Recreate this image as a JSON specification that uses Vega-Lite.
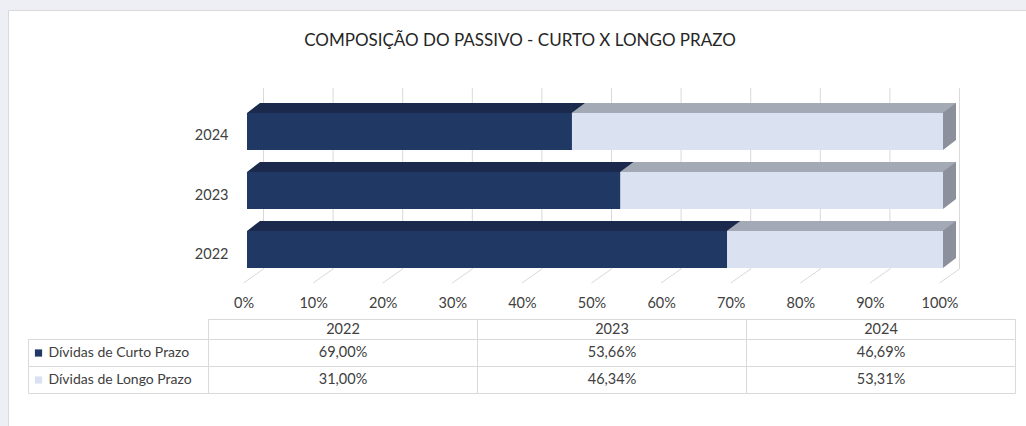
{
  "$schema": "https://vega.github.io/schema/vega-lite/v6.json",
  "width": 1018,
  "height": 416,
  "autosize": {"type": "none"},
  "padding": {"left": 8, "top": 10, "right": 0, "bottom": 0},
  "background": "#eeeef5",
  "title": {
    "text": "COMPOSIÇÃO DO PASSIVO - CURTO X LONGO PRAZO",
    "anchor": "middle",
    "frame": "group",
    "offset": -53,
    "baseline": "alphabetic",
    "font": "Lato",
    "fontSize": 17,
    "fontWeight": "normal",
    "color": "#262626",
    "dx": 3
  },
  "datasets": {
    "dados": [
      {"ano": "2022", "serie": "Dívidas de Curto Prazo", "valor": 0.69},
      {"ano": "2022", "serie": "Dívidas de Longo Prazo", "valor": 0.31},
      {"ano": "2023", "serie": "Dívidas de Curto Prazo", "valor": 0.5366},
      {"ano": "2023", "serie": "Dívidas de Longo Prazo", "valor": 0.4634},
      {"ano": "2024", "serie": "Dívidas de Curto Prazo", "valor": 0.4669},
      {"ano": "2024", "serie": "Dívidas de Longo Prazo", "valor": 0.5331}
    ],
    "marcas": [
      {"t": 0}, {"t": 0.1}, {"t": 0.2}, {"t": 0.3}, {"t": 0.4}, {"t": 0.5},
      {"t": 0.6}, {"t": 0.7}, {"t": 0.8}, {"t": 0.9}, {"t": 1}
    ]
  },
  "data": {"name": "dados"},
  "layer": [
    {
      "data": {"name": "marcas"},
      "layer": [
        {
          "mark": {"type": "rule", "color": "#d9d9d9", "strokeWidth": 1, "yOffset": -43.5, "y2Offset": 19.5},
          "encoding": {
            "x": {"field": "t", "type": "quantitative", "scale": {"domain": [0, 1], "range": [255.5, 951.5], "nice": false, "zero": false}, "axis": null},
            "y": {"datum": "2024", "type": "nominal", "scale": {"domain": ["2024", "2023", "2022"], "range": [103, 258], "paddingInner": 0.373, "paddingOuter": 0}, "axis": null},
            "y2": {"datum": "2022"}
          }
        },
        {
          "mark": {"type": "rule", "color": "#d9d9d9", "strokeWidth": 1, "yOffset": 19.5, "y2Offset": 33.5, "x2Offset": -20},
          "encoding": {
            "x": {"field": "t", "type": "quantitative", "scale": {"domain": [0, 1], "range": [255.5, 951.5], "nice": false, "zero": false}, "axis": null},
            "x2": {"field": "t"},
            "y": {"datum": "2022", "type": "nominal", "scale": {"domain": ["2024", "2023", "2022"], "range": [103, 258], "paddingInner": 0.373, "paddingOuter": 0}, "axis": null},
            "y2": {"datum": "2022"}
          }
        }
      ]
    },
    {
      "transform": [
        {"stack": "valor", "groupby": ["ano"], "sort": [{"field": "serie", "order": "ascending"}], "as": ["x0", "x1"]}
      ],
      "layer": [
        {
          "mark": {"type": "bar", "size": 10, "yOffset": -23.5},
          "encoding": {
            "x": {"field": "x0", "type": "quantitative", "scale": {"domain": [0, 1], "range": [239, 935], "nice": false, "zero": false}, "axis": {"orient": "bottom", "offset": -123, "values": [0, 0.1, 0.2, 0.3, 0.4, 0.5, 0.6, 0.7, 0.8, 0.9, 1], "format": ".0%", "labelFlush": false, "labelOverlap": false, "labelOffset": -3.5, "labelPadding": 0, "labelBaseline": "middle", "labelFont": "Lato", "labelFontSize": 14.5, "labelColor": "#404040", "ticks": false, "domain": false, "grid": false, "title": null}},
            "x2": {"field": "x1"},
            "y": {"field": "ano", "type": "nominal", "scale": {"domain": ["2024", "2023", "2022"], "range": [103, 258], "paddingInner": 0.373, "paddingOuter": 0}, "axis": {"orient": "left", "offset": -220, "labelPadding": 0, "labelOffset": 5, "labelAlign": "right", "labelBaseline": "middle", "labelFont": "Lato", "labelFontSize": 14.5, "labelColor": "#404040", "ticks": false, "domain": false, "grid": false, "title": null}},
            "color": {"field": "serie", "type": "nominal", "scale": {"domain": ["Dívidas de Curto Prazo", "Dívidas de Longo Prazo"], "range": ["#1b2a4c", "#a4a9b6"]}, "legend": null}
          }
        },
        {
          "transform": [{"filter": "datum.serie === 'Dívidas de Longo Prazo'"}],
          "mark": {"type": "bar", "size": 47, "yOffset": -5, "x2Offset": 13, "color": "#8b909c"},
          "encoding": {
            "x": {"field": "x1", "type": "quantitative", "scale": {"domain": [0, 1], "range": [239, 935], "nice": false, "zero": false}, "axis": {"orient": "bottom", "offset": -123, "values": [0, 0.1, 0.2, 0.3, 0.4, 0.5, 0.6, 0.7, 0.8, 0.9, 1], "format": ".0%", "labelFlush": false, "labelOverlap": false, "labelOffset": -3.5, "labelPadding": 0, "labelBaseline": "middle", "labelFont": "Lato", "labelFontSize": 14.5, "labelColor": "#404040", "ticks": false, "domain": false, "grid": false, "title": null}},
            "x2": {"field": "x1"},
            "y": {"field": "ano", "type": "nominal", "scale": {"domain": ["2024", "2023", "2022"], "range": [103, 258], "paddingInner": 0.373, "paddingOuter": 0}, "axis": {"orient": "left", "offset": -220, "labelPadding": 0, "labelOffset": 5, "labelAlign": "right", "labelBaseline": "middle", "labelFont": "Lato", "labelFontSize": 14.5, "labelColor": "#404040", "ticks": false, "domain": false, "grid": false, "title": null}}
          }
        },
        {
          "mark": {"type": "point", "shape": "M-0.5,-28.5 L13,-28.5 L-0.5,-18.5 Z", "size": 4, "filled": true, "opacity": 1, "strokeWidth": 0},
          "encoding": {
            "x": {"field": "x1", "type": "quantitative", "scale": {"domain": [0, 1], "range": [239, 935], "nice": false, "zero": false}, "axis": {"orient": "bottom", "offset": -123, "values": [0, 0.1, 0.2, 0.3, 0.4, 0.5, 0.6, 0.7, 0.8, 0.9, 1], "format": ".0%", "labelFlush": false, "labelOverlap": false, "labelOffset": -3.5, "labelPadding": 0, "labelBaseline": "middle", "labelFont": "Lato", "labelFontSize": 14.5, "labelColor": "#404040", "ticks": false, "domain": false, "grid": false, "title": null}},
            "y": {"field": "ano", "type": "nominal", "scale": {"domain": ["2024", "2023", "2022"], "range": [103, 258], "paddingInner": 0.373, "paddingOuter": 0}, "axis": {"orient": "left", "offset": -220, "labelPadding": 0, "labelOffset": 5, "labelAlign": "right", "labelBaseline": "middle", "labelFont": "Lato", "labelFontSize": 14.5, "labelColor": "#404040", "ticks": false, "domain": false, "grid": false, "title": null}},
            "color": {"field": "serie", "type": "nominal", "scale": {"domain": ["Dívidas de Curto Prazo", "Dívidas de Longo Prazo"], "range": ["#1b2a4c", "#a4a9b6"]}, "legend": null}
          }
        },
        {
          "transform": [{"filter": "datum.serie === 'Dívidas de Curto Prazo'"}],
          "mark": {"type": "point", "shape": "M-1,-30 L13,-30 L13,-28.5 L0,-18.5 L-1,-18.5 Z", "size": 4, "filled": true, "opacity": 1, "strokeWidth": 0, "color": "white"},
          "encoding": {
            "x": {"field": "x0", "type": "quantitative", "scale": {"domain": [0, 1], "range": [239, 935], "nice": false, "zero": false}, "axis": {"orient": "bottom", "offset": -123, "values": [0, 0.1, 0.2, 0.3, 0.4, 0.5, 0.6, 0.7, 0.8, 0.9, 1], "format": ".0%", "labelFlush": false, "labelOverlap": false, "labelOffset": -3.5, "labelPadding": 0, "labelBaseline": "middle", "labelFont": "Lato", "labelFontSize": 14.5, "labelColor": "#404040", "ticks": false, "domain": false, "grid": false, "title": null}},
            "y": {"field": "ano", "type": "nominal", "scale": {"domain": ["2024", "2023", "2022"], "range": [103, 258], "paddingInner": 0.373, "paddingOuter": 0}, "axis": {"orient": "left", "offset": -220, "labelPadding": 0, "labelOffset": 5, "labelAlign": "right", "labelBaseline": "middle", "labelFont": "Lato", "labelFontSize": 14.5, "labelColor": "#404040", "ticks": false, "domain": false, "grid": false, "title": null}}
          }
        },
        {
          "transform": [{"filter": "datum.serie === 'Dívidas de Longo Prazo'"}],
          "mark": {"type": "point", "shape": "M0,18.5 L13,8.5 L14,8.5 L14,20 L0,20 Z", "size": 4, "filled": true, "opacity": 1, "strokeWidth": 0, "color": "white"},
          "encoding": {
            "x": {"field": "x1", "type": "quantitative", "scale": {"domain": [0, 1], "range": [239, 935], "nice": false, "zero": false}, "axis": {"orient": "bottom", "offset": -123, "values": [0, 0.1, 0.2, 0.3, 0.4, 0.5, 0.6, 0.7, 0.8, 0.9, 1], "format": ".0%", "labelFlush": false, "labelOverlap": false, "labelOffset": -3.5, "labelPadding": 0, "labelBaseline": "middle", "labelFont": "Lato", "labelFontSize": 14.5, "labelColor": "#404040", "ticks": false, "domain": false, "grid": false, "title": null}},
            "y": {"field": "ano", "type": "nominal", "scale": {"domain": ["2024", "2023", "2022"], "range": [103, 258], "paddingInner": 0.373, "paddingOuter": 0}, "axis": {"orient": "left", "offset": -220, "labelPadding": 0, "labelOffset": 5, "labelAlign": "right", "labelBaseline": "middle", "labelFont": "Lato", "labelFontSize": 14.5, "labelColor": "#404040", "ticks": false, "domain": false, "grid": false, "title": null}}
          }
        },
        {
          "mark": {"type": "bar"},
          "encoding": {
            "x": {"field": "x0", "type": "quantitative", "scale": {"domain": [0, 1], "range": [239, 935], "nice": false, "zero": false}, "axis": {"orient": "bottom", "offset": -123, "values": [0, 0.1, 0.2, 0.3, 0.4, 0.5, 0.6, 0.7, 0.8, 0.9, 1], "format": ".0%", "labelFlush": false, "labelOverlap": false, "labelOffset": -3.5, "labelPadding": 0, "labelBaseline": "middle", "labelFont": "Lato", "labelFontSize": 14.5, "labelColor": "#404040", "ticks": false, "domain": false, "grid": false, "title": null}},
            "x2": {"field": "x1"},
            "y": {"field": "ano", "type": "nominal", "scale": {"domain": ["2024", "2023", "2022"], "range": [103, 258], "paddingInner": 0.373, "paddingOuter": 0}, "axis": {"orient": "left", "offset": -220, "labelPadding": 0, "labelOffset": 5, "labelAlign": "right", "labelBaseline": "middle", "labelFont": "Lato", "labelFontSize": 14.5, "labelColor": "#404040", "ticks": false, "domain": false, "grid": false, "title": null}},
            "color": {"field": "serie", "type": "nominal", "scale": {"domain": ["Dívidas de Curto Prazo", "Dívidas de Longo Prazo"], "range": ["#203864", "#dae1f1"]}, "legend": null}
          }
        }
      ],
      "resolve": {"scale": {"color": "independent"}}
    },
    {
      "mark": {"type": "rect", "fill": "white", "stroke": "#d9d9d9", "strokeWidth": 1},
      "encoding": {
        "x": {"field": "ano", "type": "nominal", "scale": {"domain": ["2022", "2023", "2024"], "range": [200.5, 1007.5], "paddingInner": 0, "paddingOuter": 0}, "axis": null},
        "y": {"field": "serie", "type": "nominal", "scale": {"domain": ["Dívidas de Curto Prazo", "Dívidas de Longo Prazo"], "range": [329.5, 383.5], "paddingInner": 0, "paddingOuter": 0}, "axis": null}
      }
    },
    {
      "transform": [{"filter": "datum.serie === 'Dívidas de Curto Prazo'"}],
      "layer": [
        {
          "mark": {"type": "rect", "fill": "white", "stroke": "#d9d9d9", "strokeWidth": 1},
          "encoding": {
            "x": {"field": "ano", "type": "nominal", "scale": {"domain": ["2022", "2023", "2024"], "range": [200.5, 1007.5], "paddingInner": 0, "paddingOuter": 0}, "axis": null},
            "y": {"datum": "Ano", "type": "nominal", "scale": {"domain": ["Ano"], "range": [309.5, 329.5], "paddingInner": 0, "paddingOuter": 0}, "axis": null}
          }
        },
        {
          "mark": {"type": "text", "font": "Lato", "fontSize": 14.5, "color": "#404040", "align": "center", "baseline": "middle"},
          "encoding": {
            "x": {"field": "ano", "type": "nominal", "scale": {"domain": ["2022", "2023", "2024"], "range": [200.5, 1007.5], "paddingInner": 0, "paddingOuter": 0}, "axis": null},
            "y": {"datum": "Ano", "type": "nominal", "scale": {"domain": ["Ano"], "range": [309.5, 329.5], "paddingInner": 0, "paddingOuter": 0}, "axis": null},
            "text": {"field": "ano"}
          }
        }
      ]
    },
    {
      "mark": {"type": "text", "font": "Lato", "fontSize": 14.5, "color": "#404040", "align": "center", "baseline": "middle"},
      "encoding": {
        "x": {"field": "ano", "type": "nominal", "scale": {"domain": ["2022", "2023", "2024"], "range": [200.5, 1007.5], "paddingInner": 0, "paddingOuter": 0}, "axis": null},
        "y": {"field": "serie", "type": "nominal", "scale": {"domain": ["Dívidas de Curto Prazo", "Dívidas de Longo Prazo"], "range": [329.5, 383.5], "paddingInner": 0, "paddingOuter": 0}, "axis": null},
        "text": {"field": "valor", "type": "quantitative", "format": ".2%"}
      }
    },
    {
      "transform": [{"filter": "datum.ano === '2022'"}],
      "layer": [
        {
          "mark": {"type": "rect", "fill": "white", "stroke": "#d9d9d9", "strokeWidth": 1},
          "encoding": {
            "x": {"datum": 0, "type": "quantitative", "scale": {"domain": [0, 180], "range": [20.5, 200.5], "nice": false, "zero": false}, "axis": null},
            "x2": {"datum": 180},
            "y": {"field": "serie", "type": "nominal", "scale": {"domain": ["Dívidas de Curto Prazo", "Dívidas de Longo Prazo"], "range": [329.5, 383.5], "paddingInner": 0, "paddingOuter": 0}, "axis": null}
          }
        },
        {
          "mark": {"type": "point", "shape": "square", "size": 52, "filled": true, "opacity": 1, "strokeWidth": 0},
          "encoding": {
            "x": {"datum": 10, "type": "quantitative", "scale": {"domain": [0, 180], "range": [20.5, 200.5], "nice": false, "zero": false}, "axis": null},
            "y": {"field": "serie", "type": "nominal", "scale": {"domain": ["Dívidas de Curto Prazo", "Dívidas de Longo Prazo"], "range": [329.5, 383.5], "paddingInner": 0, "paddingOuter": 0}, "axis": null},
            "color": {"field": "serie", "type": "nominal", "scale": {"domain": ["Dívidas de Curto Prazo", "Dívidas de Longo Prazo"], "range": ["#203864", "#dae1f1"]}, "legend": null}
          }
        },
        {
          "mark": {"type": "text", "font": "Lato", "fontSize": 14, "color": "#404040", "align": "left", "baseline": "middle"},
          "encoding": {
            "x": {"datum": 20, "type": "quantitative", "scale": {"domain": [0, 180], "range": [20.5, 200.5], "nice": false, "zero": false}, "axis": null},
            "y": {"field": "serie", "type": "nominal", "scale": {"domain": ["Dívidas de Curto Prazo", "Dívidas de Longo Prazo"], "range": [329.5, 383.5], "paddingInner": 0, "paddingOuter": 0}, "axis": null},
            "text": {"field": "serie"}
          }
        }
      ]
    }
  ],
  "resolve": {
    "scale": {"x": "independent", "y": "independent", "color": "independent"},
    "axis": {"x": "independent", "y": "independent"}
  },
  "config": {
    "view": {"stroke": "#d9d9d9", "fill": "white"},
    "font": "Lato",
    "locale": {"number": {"decimal": ",", "thousands": ".", "grouping": [3], "currency": ["R$", ""]}}
  }
}
